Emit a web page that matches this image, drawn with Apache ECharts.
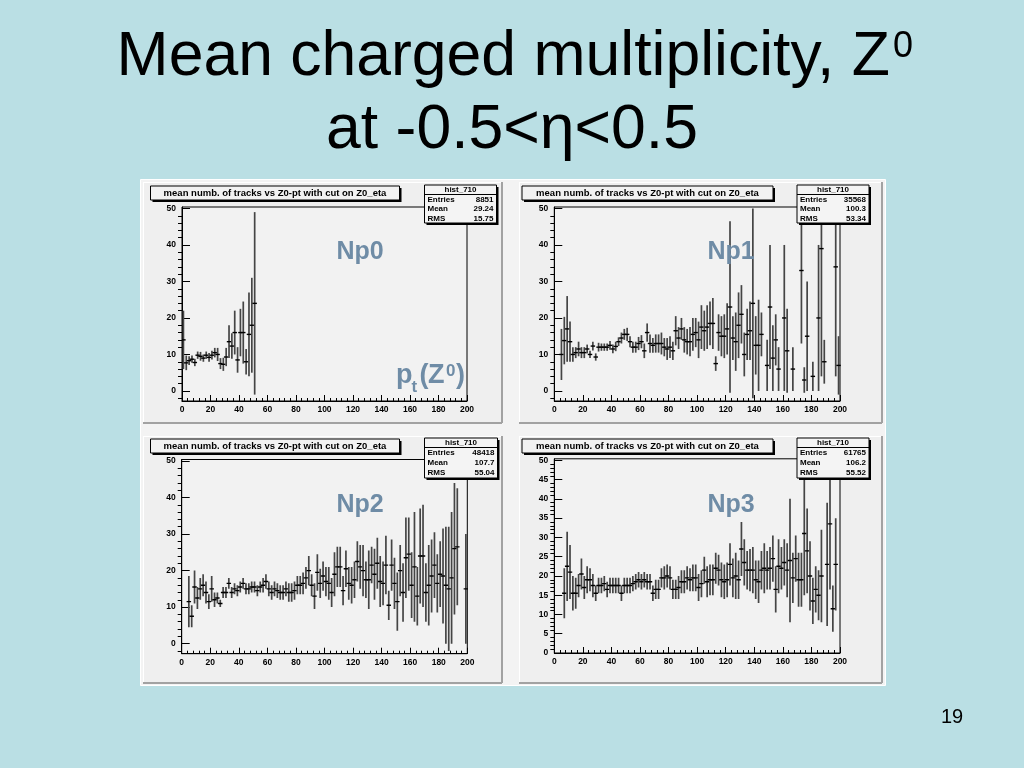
<!DOCTYPE html>
<html>
<head>
<meta charset="utf-8">
<script src="https://cdn.jsdelivr.net/npm/echarts@6/dist/echarts.min.js"></script>
<style>
html,body{margin:0;padding:0;background:#badfe4;}
#chart{width:1024px;height:768px;}
</style>
</head>
<body>
<div id="chart"></div>
<script>
// ---------------- data ----------------
const slideTitle1 = 'Mean charged multiplicity, Z';
const slideTitle1Sup = '0';
const slideTitle2 = 'at -0.5<\u03b7<0.5';
const pageNumber = '19';
const histTitle = 'mean numb. of tracks vs Z0-pt with cut on Z0_eta';
const histName = 'hist_710';
const panelLabels = ['Np0', 'Np1', 'Np2', 'Np3'];
const statEntries = ['8851', '35568', '48418', '61765'];
const statMean = ['29.24', '100.3', '107.7', '106.2'];
const statRMS = ['15.75', '53.34', '55.04', '55.52'];

const xTicks = [0, 20, 40, 60, 80, 100, 120, 140, 160, 180, 200];
const yTicksA = [0, 10, 20, 30, 40, 50];
const yTicksB = [0, 5, 10, 15, 20, 25, 30, 35, 40, 45, 50];

// Np0
const np0X = [1,3,5,7,9,11,13,15,17,19,21,23,25,27,29,31,33,35,37,39,41,43,45,47,49,51];
const np0Mean = [14,7.7,8.3,8.7,7.8,9.8,9.5,9,9.8,9.2,9.8,10.5,10,7.5,7.3,9.3,13.5,12.3,16,8.5,16,16,8,15.5,18,24];
const np0Err = [8,2,1.2,1,1,1,1.2,1,1,1.2,1.2,1.3,1.8,1.5,1.8,2.5,4.5,3.5,6,3.5,6.5,8.5,3.5,11.5,13,25];

// Np1
const np1X = [5,7,9,11,13,15,17,19,21,23,25,27,29,31,33,35,37,39,41,43,45,47,49,51,53,55,57,59,61,63,
  65,67,69,71,73,75,77,79,81,83,85,87,89,91,93,95,97,99,101,103,105,107,109,111,113,115,117,119,121,123,
  125,127,129,131,133,135,137,139,141,143,145,149,151,153,155,157,161,163,167,173,175,177,181,185,187,189,197,199];
const np1Mean = [10,13.8,17,13.5,10,10.5,11.5,10.5,10.5,11.5,10,12.3,9.3,12,12,12,12,12.5,11.5,12.2,
  13.5,14.5,15.5,15.5,13.5,12,12,13,13.5,11,16,13,12.5,13,13,13,12,11.5,12,11,
  16.5,14.5,17,14,13.5,13.5,15.5,16,14,17.5,16.5,17.5,18.5,18.5,7.5,16,15,15,17,23,
  14.5,13.5,18,21,10,15.5,16.5,24,12.5,12.5,15.5,7,23,9,14,6,20,11,6,33,3,15,4,20,39,8,34,7];
const np1Err = [7,6.5,9,5.5,2,1.5,2,1.5,1.5,1.2,1,1.2,1,1.2,1,1,1,1.2,1.2,1.3,
  1.2,1.5,1.5,1.8,1.5,1.5,1.5,1.8,1.8,2,2.5,2.5,2,2.5,2.5,3,2.5,3,3,2.5,
  4,3,3,3.5,3.5,4,4.5,4,5,6,5.5,6,6,7,2,5,5.5,6,7,23.5,
  6,8,9,8,6,7,8,26,8,12.5,6,7,17,9,7,6,20,11.5,6,20,3.5,15,4,20,35,6,30,8];

// Np2
const np2X = [5,7,9,11,13,15,17,19,21,23,25,27,29,31,33,35,37,39,41,43,45,47,49,51,53,55,57,59,61,63,
  65,67,69,71,73,75,77,79,81,83,85,87,89,91,93,95,97,99,101,103,105,107,109,111,113,115,117,119,121,123,
  125,127,129,131,133,135,137,139,141,143,145,147,149,151,153,155,157,159,161,163,165,167,169,171,173,175,177,179,181,183,
  185,187,189,191,193,199];
const np2Mean = [11.5,7.5,15.5,12.5,15,16,14,11.5,15,12,12.5,11,14,14,16.5,14,15,14.5,15.5,16.5,
  15,15,15.5,15.5,14.5,15.5,16,17,15,14,15,14.5,14,14,15,14,14,14.5,16,16,
  16.5,18,20,16,13,19.5,16.5,18.5,17,16.5,14,19,21,21,14.5,20.5,16.5,16,17.5,22.5,
  21,20,17.5,17.5,21.5,19,22,17,16.5,21.5,10.5,21.5,16.5,11.5,20,14,23.5,24.5,16,21,13,24,24,14,16,18.5,21.5,16.5,19,18.5,
  16,15,18,26,26.5,15];
const np2Err = [7,3,4.5,3,3,3,3,2,3.5,2,1.5,1,1.5,1.5,1.5,1.5,1.5,1.5,1.5,1.5,
  1.5,1.5,1.5,1.5,1.5,1.5,2,2,2,2,2,2,2,2,2,2.5,2.5,2.5,2.5,2.5,
  3,3,4,3,3.5,5,4,4,4,4.5,4,6,5.5,5.5,4,5,4.5,5,5,5.5,
  6,7,5,8,5,7,7,7,6,8,4,7,7,8,7,8,11,10,9,15,8,13,14,8,11,10,9,8,9,13,
  16,17,18,18,16,15];

// Np3
const np3X = [7,9,11,13,15,17,19,21,23,25,27,29,31,33,35,37,39,41,43,45,47,49,51,53,55,57,59,61,63,65,
  67,69,71,73,75,77,79,81,83,85,87,89,91,93,95,97,99,101,103,105,107,109,111,113,115,117,119,121,123,125,
  127,129,131,133,135,137,139,141,143,145,147,149,151,153,155,157,159,161,163,165,167,169,171,173,175,177,179,181,183,185,
  187,191,193,195,197];
const np3Mean = [15.5,22.5,21,15.5,15.5,17.5,20.5,17,19,19,17.5,15.5,17.5,17.5,18,16.5,17.5,17.5,17.5,17.5,
  15.5,17.5,17.5,17.5,18,18.5,19,18.5,19,18.5,18.5,15.5,16.5,16.5,19.5,19.5,20,19.5,16.5,16.5,
  17,18.5,18.5,19.5,19,19.5,19.5,17,18,21.5,18.5,19,19,22,21.5,19,18.5,19,23,19.5,
  20,19,27,23.5,21.5,21.5,21.5,19,18.5,21.5,22,21.5,22,24.5,16.5,22.5,22,23.5,21.5,24,19.5,24.5,19,19,31,26.5,20,13.5,16.5,15,
  20,23,33.5,11.5,23];
const np3Err = [6.5,9,7,4.5,4,3,4,3,3.5,3,3,2,2,2,2,2,2,2,2,2,
  2,2,2,2,2,2,2,2,2,2,2,2,2.5,2.5,2.5,3,3,3,2.5,2.5,
  3,3,3,3,3,3.5,3.5,3.5,3.5,3.5,4,4,4,4,4,4.5,4.5,4.5,5.5,5,
  6,5,7,6,5,5.5,6,5,5.5,5,6.5,5,5.5,6,6,7,5.5,6,7,16,6.5,6,7,7,16,11,9,6,6,6.5,
  12,16,17,6,12];

// ---------------- layout ----------------
const FONT = '"Liberation Sans", Arial, Helvetica, sans-serif';
const BLUE = '#6f8ca6';
const panels = [
  {box:[143,182,359,241], grid:[182,207,285,194], yMin:-2.75, major:yTicksA, minorStep:2, title:[150.5,186,249,14], stat:[424.5,185,72,38], label:[360,252]},
  {box:[519,182,363,241], grid:[554.3,207,285.7,194], yMin:-2.75, major:yTicksA, minorStep:2, title:[522,186,251,14], stat:[797,185,72,38], label:[731,252]},
  {box:[143,436,359,247], grid:[181.7,459.5,285.6,194.2], yMin:-2.75, major:yTicksA, minorStep:2, title:[150.5,439,249,14], stat:[424.5,438,73,40], label:[360,505]},
  {box:[519,436,363,247], grid:[554.3,458.8,285.7,194.2], yMin:0, major:yTicksB, minorStep:1, title:[522,439,251,14], stat:[797,438,72,40], label:[731,505]}
];
const Y_MAX = 50.4;
const seriesData = [
  [np0X, np0Mean, np0Err],
  [np1X, np1Mean, np1Err],
  [np2X, np2Mean, np2Err],
  [np3X, np3Mean, np3Err]
];

function minorValues(minV, step, majors) {
  const out = [];
  const start = Math.ceil(minV / step) * step;
  for (let v = start; v <= 50 + 1e-9; v += step) {
    const r = Math.round(v * 100) / 100;
    if (majors.indexOf(r) < 0) out.push(r);
  }
  return out;
}

const labelStyle = {color:'#000', fontFamily: FONT, fontWeight:'bold', fontSize: 8.5};

const grids = [], xAxes = [], yAxes = [], series = [];
panels.forEach((p, i) => {
  grids.push({left:p.grid[0], top:p.grid[1], width:p.grid[2], height:p.grid[3], show:true,
    backgroundColor:'#f2f2f2', borderColor:'#000', borderWidth:1, containLabel:false});
  xAxes.push({type:'value', gridIndex:i, min:0, max:200, interval:20,
    axisLine:{show:true, onZero:false, lineStyle:{color:'#000', width:1}},
    axisTick:{show:true, inside:true, length:6, lineStyle:{color:'#000'}},
    minorTick:{show:true, splitNumber:5, length:3, lineStyle:{color:'#000'}},
    axisLabel:{...labelStyle, margin:4, customValues: xTicks},
    splitLine:{show:false}, minorSplitLine:{show:false}});
  yAxes.push({type:'value', gridIndex:i, min:p.yMin, max:Y_MAX,
    axisLine:{show:true, onZero:false, lineStyle:{color:'#000', width:1}},
    axisTick:{show:true, inside:true, length:8, customValues:p.major, lineStyle:{color:'#000'}},
    axisLabel:{...labelStyle, margin:6, customValues:p.major},
    splitLine:{show:false}});
  yAxes.push({type:'value', gridIndex:i, min:p.yMin, max:Y_MAX,
    axisLine:{show:false},
    axisTick:{show:true, inside:true, length:4, customValues:minorValues(p.yMin, p.minorStep, p.major), lineStyle:{color:'#000'}},
    axisLabel:{show:false},
    splitLine:{show:false}});
  const [xs, ms, es] = seriesData[i];
  series.push({type:'custom', xAxisIndex:i, yAxisIndex:2*i, clip:true, silent:true, z:5,
    data: xs.map((x, k) => [x, ms[k], es[k]]),
    renderItem: function(params, api){
      const x = api.value(0), m = api.value(1), e = api.value(2);
      const cs = params.coordSys;
      const top = cs.y, bot = cs.y + cs.height;
      const a = api.coord([x, m + e]), b = api.coord([x, m - e]);
      const l = api.coord([x - 1, m]), r = api.coord([x + 1, m]);
      const y1 = Math.max(top, Math.min(bot, a[1]));
      const y2 = Math.max(top, Math.min(bot, b[1]));
      const children = [];
      if (y2 > y1) children.push({type:'line', shape:{x1:a[0], y1:y1, x2:b[0], y2:y2},
        style:{stroke:'#454545', lineWidth:1.7}});
      if (l[1] >= top && l[1] <= bot) children.push({type:'line', shape:{x1:l[0] - 0.8, y1:l[1], x2:r[0] + 0.8, y2:r[1]},
        style:{stroke:'#000', lineWidth:1.4}});
      return {type:'group', children};
    }});
});

// ---------------- decorations ----------------
function rect(x, y, w, h, fill, stroke, z) {
  return {type:'rect', silent:true, z:z, shape:{x:x, y:y, width:w, height:h},
    style:{fill:fill, stroke:stroke || null, lineWidth:1}};
}
function ln(x1, y1, x2, y2, stroke, w, z) {
  return {type:'line', silent:true, z:z, shape:{x1:x1, y1:y1, x2:x2, y2:y2}, style:{stroke:stroke, lineWidth:w}};
}
function txt(x, y, s, font, fill, align, z) {
  return {type:'text', silent:true, z:z, x:x, y:y,
    style:{text:s, font:font, fill:fill, align:align, textAlign:align, verticalAlign:'middle', textVerticalAlign:'middle'}};
}

const gfx = [];
gfx.push(rect(140.5, 179.5, 745, 506, '#f3f3f3', '#ffffff', -20));
panels.forEach((p, i) => {
  const [bx, by, bw, bh] = p.box;
  gfx.push(rect(bx, by, bw, bh, '#efefef', null, -15));
  gfx.push(ln(bx, by + 0.5, bx + bw, by + 0.5, '#ffffff', 1, -14));
  gfx.push(ln(bx + 0.5, by, bx + 0.5, by + bh, '#ffffff', 1, -14));
  gfx.push(ln(bx, by + bh, bx + bw, by + bh, '#a2a2a2', 2, -14));
  gfx.push(ln(bx + bw, by, bx + bw, by + bh, '#a2a2a2', 2, -14));
  // title box
  const [tx, ty, tw, th] = p.title;
  gfx.push(rect(tx + 2, ty + 2, tw, th, '#000', null, 40));
  gfx.push(rect(tx, ty, tw, th, '#f2f2f2', '#000', 41));
  gfx.push(txt(tx + tw / 2, ty + th / 2 + 0.5, histTitle, 'bold 9.5px ' + FONT, '#000', 'center', 42));
  // stats box
  const [sx, sy, sw, sh] = p.stat;
  gfx.push(rect(sx + 2, sy + 2, sw, sh, '#000', null, 40));
  gfx.push(rect(sx, sy, sw, sh, '#f4f4f4', '#000', 41));
  gfx.push(ln(sx, sy + 9.5, sx + sw, sy + 9.5, '#000', 1, 42));
  gfx.push(txt(sx + sw / 2, sy + 5, histName, 'bold 8px ' + FONT, '#000', 'center', 42));
  const rows = [['Entries', statEntries[i]], ['Mean', statMean[i]], ['RMS', statRMS[i]]];
  const rowH = (sh - 10) / 3;
  rows.forEach((r, k) => {
    const yy = sy + 10 + rowH * (k + 0.5);
    gfx.push(txt(sx + 3, yy, r[0], 'bold 8px ' + FONT, '#000', 'left', 42));
    gfx.push(txt(sx + sw - 3, yy, r[1], 'bold 8px ' + FONT, '#000', 'right', 42));
  });
  // NpX label
  gfx.push(txt(p.label[0], p.label[1], panelLabels[i], 'bold 25px ' + FONT, BLUE, 'center', 30));
});
// p_t(Z^0) on first panel
gfx.push(txt(396, 376, 'p', 'bold 27px ' + FONT, BLUE, 'left', 30));
gfx.push(txt(411.5, 387, 't', 'bold 17px ' + FONT, BLUE, 'left', 30));
gfx.push(txt(419.5, 376, '(', 'bold 27px ' + FONT, BLUE, 'left', 30));
gfx.push(txt(428, 376, 'Z', 'bold 27px ' + FONT, BLUE, 'left', 30));
gfx.push(txt(446, 371, '0', 'bold 17px ' + FONT, BLUE, 'left', 31));
gfx.push(txt(456, 376, ')', 'bold 27px ' + FONT, BLUE, 'left', 30));
// slide title
gfx.push(txt(890, 58, slideTitle1, '62.5px ' + FONT, '#000', 'right', 10));
gfx.push(txt(893, 47, slideTitle1Sup, '36px ' + FONT, '#000', 'left', 10));
gfx.push(txt(512, 131, slideTitle2, '62.5px ' + FONT, '#000', 'center', 10));
gfx.push(txt(952, 717, pageNumber, '20px ' + FONT, '#000', 'center', 10));

const chart = echarts.init(document.getElementById('chart'), null, {renderer:'canvas'});
chart.setOption({
  backgroundColor:'#badfe4',
  animation:false,
  grid: grids,
  xAxis: xAxes,
  yAxis: yAxes,
  series: series,
  graphic: {elements: gfx}
});
</script>
</body>
</html>
